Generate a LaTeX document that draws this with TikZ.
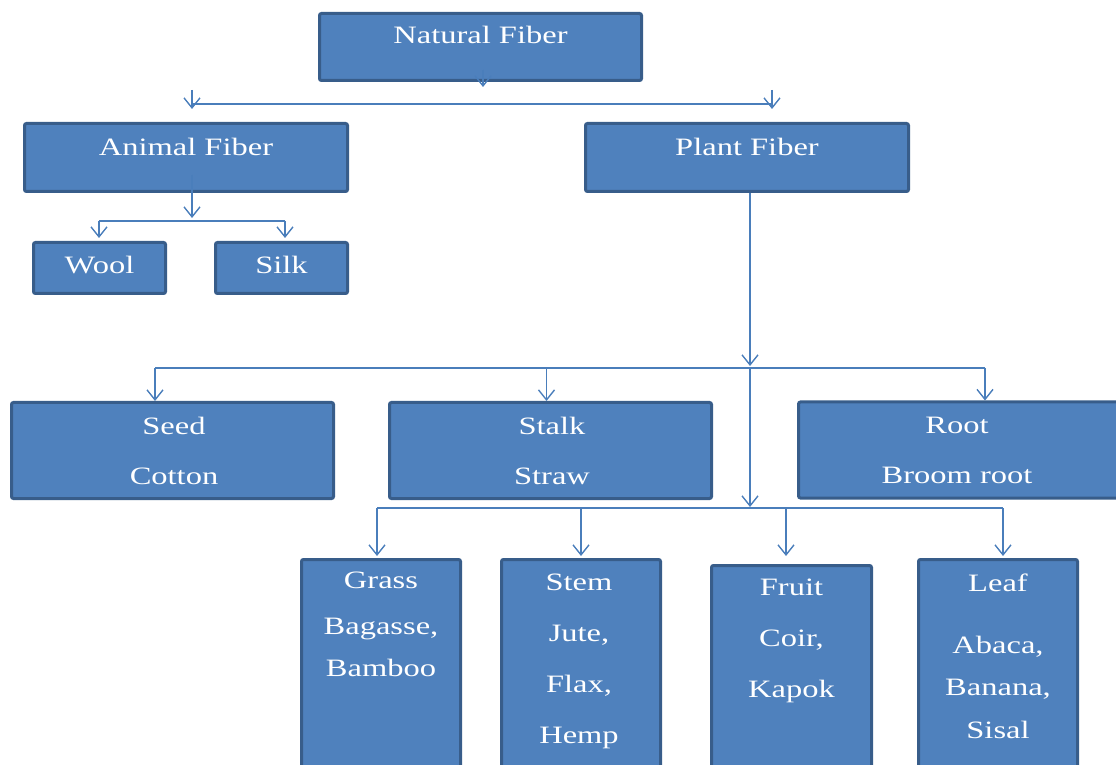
\documentclass[tikz,border=0pt]{standalone}
\usepackage{fontspec}
\setmainfont{Liberation Serif}[FakeStretch=1.3]
\usetikzlibrary{arrows.meta}
\definecolor{boxfill}{HTML}{4F81BD}
\definecolor{boxedge}{HTML}{385D8A}
\definecolor{linkcol}{HTML}{4A7EBB}
\tikzset{
  fibbox/.style={draw=boxedge, fill=boxfill, line width=1.5pt, rounded corners=1pt, inner sep=0pt},
  fibtxt/.style={text=white, align=center, inner sep=0pt, anchor=north, font=\fontsize{12.5}{20}\selectfont},
  link/.style={draw=linkcol, line width=0.7pt},
  linkarr/.style={link, -{Straight Barb[length=5pt,width=8pt]}},
}
\begin{document}
\begin{tikzpicture}[x=0.5pt,y=-0.5pt]
 \useasboundingbox (0,0) rectangle (1116,765);
 \clip (0,0) rectangle (1116,765);
 % boxes
 \node[fibbox, minimum width=161pt, minimum height=33.5pt] (natural) at (480.5,47) {};
 \node[fibbox, minimum width=161.5pt, minimum height=34pt] (animal) at (186,157.5) {};
 \node[fibbox, minimum width=161.5pt, minimum height=34pt] (plant) at (747,157.5) {};
 \node[fibbox, minimum width=66pt, minimum height=25.5pt] (wool) at (99.5,268) {};
 \node[fibbox, minimum width=66pt, minimum height=25.5pt] (silk) at (281.5,268) {};
 \node[fibbox, minimum width=161pt, minimum height=48pt] (seed) at (172.5,450.5) {};
 \node[fibbox, minimum width=161pt, minimum height=48pt] (stalk) at (550.5,450.5) {};
 \node[fibbox, minimum width=165pt, minimum height=48pt] (root) at (963.5,450) {};
 \node[fibbox, minimum width=79.5pt, minimum height=114.5pt] (grass) at (381,674) {};
 \node[fibbox, minimum width=79.5pt, minimum height=114.5pt] (stem) at (581,674) {};
 \node[fibbox, minimum width=80pt, minimum height=111.5pt] (fruit) at (791.5,677) {};
 \node[fibbox, minimum width=79.5pt, minimum height=114.5pt] (leaf) at (998,674) {};
 % bus points
 \coordinate (ntip) at (483,87);
 \coordinate (nbusl) at (192,104);
 \coordinate (nbusr) at (772,104);
 \coordinate (abus) at (192,221);
 \coordinate (wbus) at (99,221);
 \coordinate (sbus) at (285,221);
 \coordinate (pbus) at (750,368);
 \coordinate (seedbus) at (155,368);
 \coordinate (rootbus) at (985,368);
 \coordinate (lbus) at (750,508);
 \coordinate (grassbus) at (377,508);
 \coordinate (leafbus) at (1003,508);
 % top level
 \draw[linkarr] ([yshift=6pt]natural.south -| ntip) -- (ntip);
 \draw[link] (nbusl) -- (nbusr);
 \draw[linkarr] ([yshift=7pt]nbusl) -- ([yshift=6.5pt]animal.north -| nbusl);
 \draw[linkarr] ([yshift=7pt]nbusr) -- ([yshift=6.5pt]plant.north -| nbusr);
 % animal
 \draw[linkarr] ([yshift=9pt]animal.south -| abus) -- ([yshift=1.5pt]abus);
 \draw[link] (wbus) -- (sbus);
 \draw[linkarr] (wbus) -- ([yshift=1.5pt]wool.north -| wbus);
 \draw[linkarr] (sbus) -- ([yshift=1.5pt]silk.north -| sbus);
 % plant
 \draw[linkarr] (plant.south -| pbus) -- ([yshift=1pt]pbus);
 \draw[link] (seedbus) -- (rootbus);
 \draw[linkarr] (seedbus) -- (seed.north -| seedbus);
 \draw[linkarr] ([xshift=-2pt]stalk.north |- pbus) -- ([xshift=-2pt]stalk.north);
 \draw[linkarr] (rootbus) -- (root.north -| rootbus);
 \draw[linkarr] (pbus) -- ([yshift=0.5pt]lbus);
 \draw[link] (grassbus) -- (leafbus);
 \draw[linkarr] (grassbus) -- ([yshift=1pt]grass.north -| grassbus);
 \draw[linkarr] (stem.north |- lbus) -- ([yshift=1pt]stem.north);
 \draw[linkarr] ([xshift=-2.75pt]fruit.north |- lbus) -- ([xshift=-2.75pt,yshift=4pt]fruit.north);
 \draw[linkarr] (leafbus) -- ([yshift=1pt]leaf.north -| leafbus);
 % texts
 \node[fibtxt] (naturalt) at (480.5,26) {Natural Fiber};
 \node[fibtxt] (animalt) at (186,138) {Animal Fiber};
 \node[fibtxt] (plantt) at (747,138) {Plant Fiber};
 \node[fibtxt] (woolt) at (99.5,256) {Wool};
 \node[fibtxt] (silkt) at (281.5,256) {Silk};
 \node[fibtxt] (seedt) at (174,417) {Seed\\[5pt]Cotton};
 \node[fibtxt] (stalkt) at (552,417) {Stalk\\[5pt]Straw};
 \node[fibtxt] (roott) at (957,417) {Root\\[5pt]Broom root};
 \node[fibtxt] (grasst) at (381,572) {Grass\\[3pt]Bagasse,\\[1pt]Bamboo};
 \node[fibtxt] (stemt) at (579,574) {Stem\\[5.5pt]Jute,\\[5.5pt]Flax,\\[5.5pt]Hemp};
 \node[fibtxt] (fruitt) at (791.5,579) {Fruit\\[5.5pt]Coir,\\[5.5pt]Kapok};
 \node[fibtxt] (leaft) at (998,573) {Leaf\\[11pt]Abaca,\\[1pt]Banana,\\[1.5pt]Sisal};
\end{tikzpicture}
\end{document}
